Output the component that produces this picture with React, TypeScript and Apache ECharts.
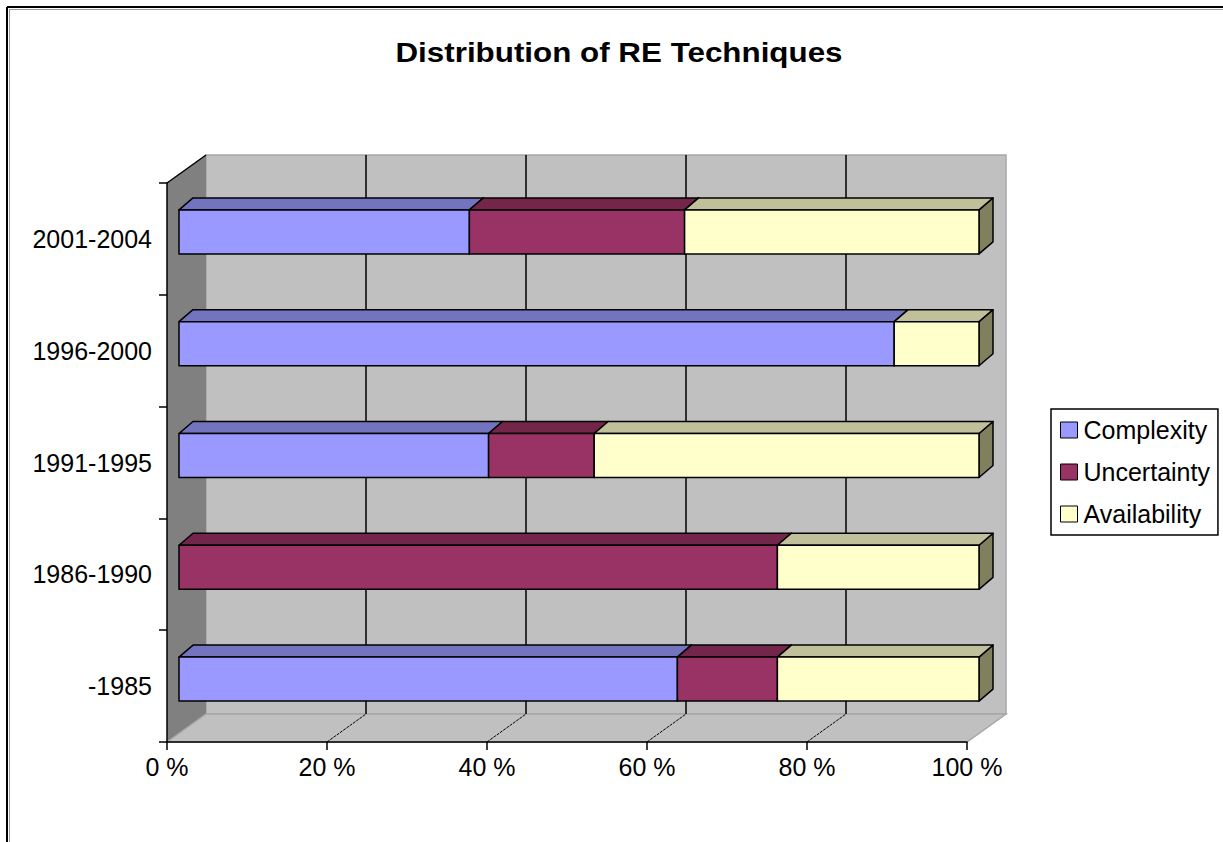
import React, { useEffect, useRef } from 'react';
import * as echarts from 'echarts';

const titleText = 'Distribution of RE Techniques';
const categories = ['-1985', '1986-1990', '1991-1995', '1996-2000', '2001-2004'];
const seriesNames = ['Complexity', 'Uncertainty', 'Availability'];
const complexity = [62.3, 0, 38.7, 89.4, 36.3];
const uncertainty = [12.5, 74.8, 13.2, 0, 26.9];
const availability = [25.2, 25.2, 48.1, 10.6, 36.8];
const xTickValues = [0, 20, 40, 60, 80, 100];
const xTickLabels = ['0 %', '20 %', '40 %', '60 %', '80 %', '100 %'];

const faceColors = ['#9999ff', '#993366', '#ffffcc'];
const topColors = ['#7373c0', '#732649', '#c0c09a'];
const sideColors = ['#5c5c99', '#5c1f3d', '#80805f'];

const FONT = 'Liberation Sans, Arial, sans-serif';

const seriesValues = [complexity, uncertainty, availability];
const segData = seriesValues.map((vals, s) =>
  vals.map((v, i) => {
    let start = 0;
    for (let k = 0; k < s; k++) start += seriesValues[k][i];
    return [i, start, start + v];
  })
);

const renderBar = (s: number) => (params: any, api: any) => {
  const cat = api.value(0);
  const start = api.value(1);
  const end = api.value(2);
  if (!(end - start > 0)) return null;
  const p0 = api.coord([start, cat]);
  const p1 = api.coord([end, cat]);
  const band = api.size([0, 1])[1];
  const h = band * 0.394;
  const ox = 12, oy = -7, dx = 14, dy = -12;
  const x0 = p0[0] + ox;
  const x1 = p1[0] + ox;
  const yc = p0[1] + oy;
  const yT = yc - h / 2;
  const yB = yc + h / 2;
  const stroke = { stroke: '#000', lineWidth: 1.5, lineJoin: 'round' };
  return {
    type: 'group',
    children: [
      {
        type: 'polygon',
        shape: { points: [[x1, yT], [x1 + dx, yT + dy], [x1 + dx, yB + dy], [x1, yB]] },
        style: { fill: sideColors[s], ...stroke },
      },
      {
        type: 'polygon',
        shape: { points: [[x0, yT], [x0 + dx, yT + dy], [x1 + dx, yT + dy], [x1, yT]] },
        style: { fill: topColors[s], ...stroke },
      },
      {
        type: 'rect',
        shape: { x: x0, y: yT, width: x1 - x0, height: yB - yT },
        style: { fill: faceColors[s], ...stroke },
      },
    ],
  };
};

const renderWalls = (params: any, api: any) => {
  const cs = params.coordSys;
  const L = cs.x, T = cs.y, R = cs.x + cs.width, B = cs.y + cs.height;
  const DX = 39, DY = -28;
  const children: any[] = [
    {
      type: 'rect',
      shape: { x: L + DX, y: T + DY, width: R - L, height: B - T },
      style: { fill: '#c0c0c0', stroke: '#a6a6a6', lineWidth: 1.5 },
    },
    {
      type: 'polygon',
      shape: { points: [[L, T], [L + DX, T + DY], [L + DX, B + DY], [L, B]] },
      style: { fill: '#808080' },
    },
    {
      type: 'polygon',
      shape: { points: [[L, B], [L + DX, B + DY], [R + DX, B + DY], [R, B]] },
      style: { fill: '#c0c0c0', stroke: '#a6a6a6', lineWidth: 1.5 },
    },
    {
      type: 'line',
      shape: { x1: L, y1: T, x2: L + DX, y2: T + DY },
      style: { stroke: '#000', lineWidth: 1.5 },
    },
  ];
  xTickValues.slice(1, -1).forEach((v) => {
    const x = api.coord([v, 0])[0];
    children.push({
      type: 'line',
      shape: { x1: x + DX, y1: T + DY, x2: x + DX, y2: B + DY },
      style: { stroke: '#000', lineWidth: 1.5 },
    });
    children.push({
      type: 'line',
      shape: { x1: x, y1: B, x2: x + DX, y2: B + DY },
      style: { stroke: '#000', lineWidth: 1, lineDash: [3, 1] },
    });
  });
  return { type: 'group', children };
};

export default function App() {
  const ref = useRef<HTMLDivElement>(null);
  useEffect(() => {
    document.body.style.margin = '0';
    const chart = echarts.init(ref.current!, null, { renderer: 'svg' });
    const option: any = {
      animation: false,
      backgroundColor: '#ffffff',
      legend: {
        data: seriesNames,
        orient: 'vertical',
        left: 1051,
        top: 409,
        padding: [8, 8, 8, 9],
        itemWidth: 17,
        itemHeight: 16,
        itemGap: 16,
        icon: 'rect',
        borderColor: '#000',
        borderWidth: 1.5,
        borderRadius: 0,
        itemStyle: { borderColor: '#000', borderWidth: 1 },
        textStyle: { fontFamily: FONT, fontSize: 25, color: '#000', lineHeight: 26, padding: [0, 0, 0, 1] },
      },
      grid: {
        left: 167,
        top: 183,
        width: 800,
        height: 559,
        containLabel: false,
        outerBoundsMode: 'none',
      },
      xAxis: {
        type: 'value',
        min: 0,
        max: 100,
        interval: 20,
        z: 5,
        axisLine: { show: true, lineStyle: { color: '#000', width: 1.5 } },
        axisTick: { show: true, length: 8, lineStyle: { color: '#000', width: 1.5 } },
        splitLine: { show: false },
        axisLabel: {
          margin: 12,
          fontFamily: FONT,
          fontSize: 25,
          color: '#000',
          formatter: (v: number) => xTickLabels[xTickValues.indexOf(v)] ?? '',
        },
      },
      yAxis: {
        type: 'category',
        data: categories,
        z: 5,
        axisLine: { show: true, lineStyle: { color: '#000', width: 1.5 } },
        axisTick: { show: true, length: 8, lineStyle: { color: '#000', width: 1.5 } },
        splitLine: { show: false },
        axisLabel: { margin: 15, fontFamily: FONT, fontSize: 25, color: '#000' },
      },
      graphic: [
        { type: 'line', shape: { x1: 7, y1: 7, x2: 1223, y2: 7 }, style: { stroke: '#000', lineWidth: 2 } },
        { type: 'line', shape: { x1: 7, y1: 7, x2: 7, y2: 842 }, style: { stroke: '#000', lineWidth: 2 } },
        { type: 'line', shape: { x1: 9, y1: 9.5, x2: 1223, y2: 9.5 }, style: { stroke: '#999', lineWidth: 1 } },
        { type: 'line', shape: { x1: 9.5, y1: 9, x2: 9.5, y2: 842 }, style: { stroke: '#999', lineWidth: 1 } },
        {
          type: 'text',
          x: 619,
          y: 52,
          scaleX: 1.12,
          style: {
            text: titleText,
            fontFamily: FONT,
            fontSize: 28,
            fontWeight: 'bold',
            fill: '#000',
            textAlign: 'center',
            textVerticalAlign: 'middle',
          },
        },
      ],
      series: [
        {
          type: 'custom',
          name: 'walls',
          silent: true,
          z: 1,
          renderItem: renderWalls,
          data: [[0, 0]],
          encode: { x: 0, y: 1 },
        },
        ...seriesNames.map((name, s) => ({
          type: 'custom',
          name,
          z: 2 + s,
          itemStyle: { color: faceColors[s] },
          renderItem: renderBar(s),
          data: segData[s],
          encode: { x: [1, 2], y: 0 },
        })),
      ],
    };
    chart.setOption(option);
    return () => chart.dispose();
  }, []);
  return <div ref={ref} style={{ width: 1223, height: 842, background: '#fff' }} />;
}
